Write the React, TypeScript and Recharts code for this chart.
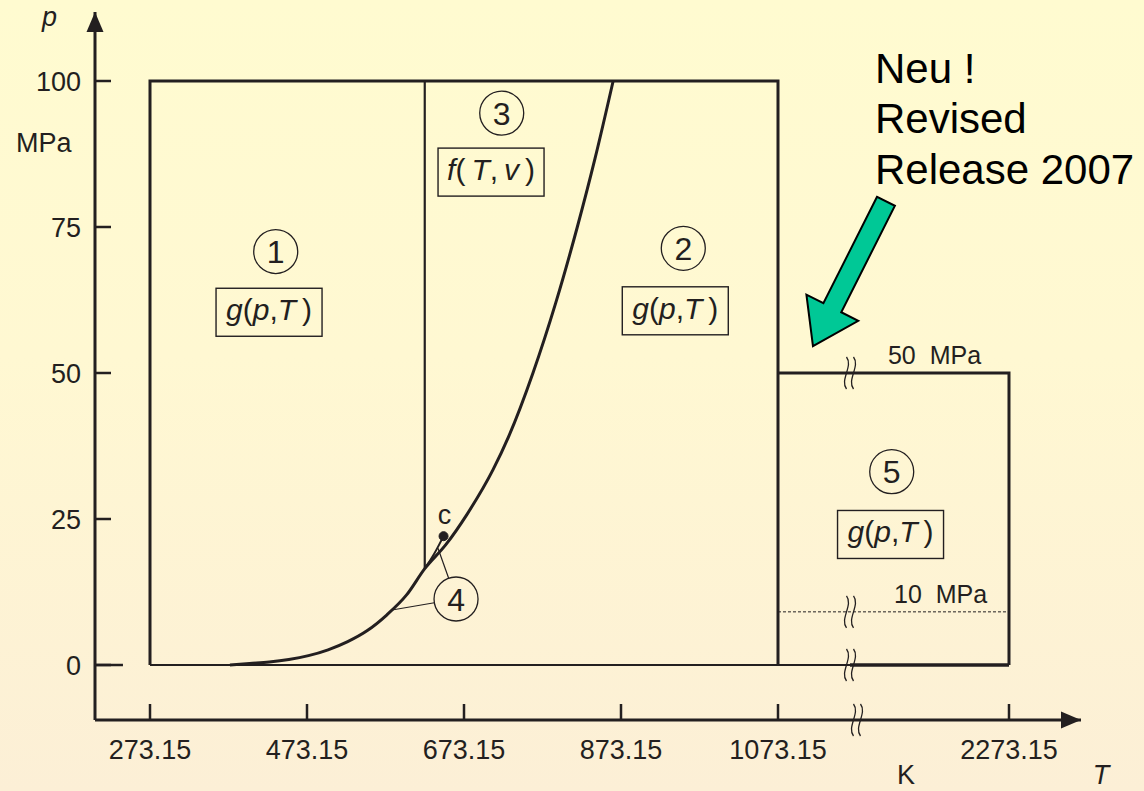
import React from 'react';
import { ComposedChart, Line, XAxis, YAxis, ReferenceDot, ReferenceLine } from 'recharts';

const INK = '#231F20';
const FONT = '"Liberation Sans", Arial, Helvetica, sans-serif';

// ---- axes ----
const X_TICKS_K = [273.15, 473.15, 673.15, 873.15, 1073.15, 2273.15];
const Y_TICKS_MPA = [0, 25, 50, 75, 100];
const T_MIN = 203.086;
const U_MAX = 1459.14;
const P_MIN = -9.418;
const P_MAX = 111.815;
const T_SPLIT = 1073.15; // scale changes after this temperature (axis break)
const HIGH_SCALE = 0.24522;
const BREAK_T = 1447.2;
const BREAK_AXIS_T = 1483.5;

// ---- region boundaries (T in K, p in MPa) ----
const REGION12_T = [273.15, 273.15, 1073.15, 1073.15];
const REGION12_P = [0, 100, 100, 0];
const BOTTOM_LEFT_T = [273.15, BREAK_T];
const BOTTOM_LEFT_P = [0, 0];
const BOTTOM_RIGHT_T = [BREAK_T, 2273.15];
const BOTTOM_RIGHT_P = [0, 0];
const REGION5_T = [1073.15, 2273.15, 2273.15];
const REGION5_P = [50, 50, 0];
const ZERO_TICK_T = [T_MIN, 238.7];
const ZERO_TICK_P = [0, 0];
const B13_T = [623.15, 623.15];
const B13_P = [16.5, 100];
const LINE10_T = [1073.15, 2273.15];
const LINE10_P = [9.1, 9.1];

// saturation curve (thick part) followed by the 2-3 boundary
const SAT_T = [375, 400, 425, 450, 475, 500, 525, 550, 575, 600, 623.15];
const SAT_P = [0.0, 0.25, 0.5, 0.93, 1.6, 2.6, 4.0, 5.9, 8.6, 12.0, 16.5];
const B23_T = [650, 677, 710, 730, 761, 790, 817.5, 840, 863.15];
const B23_P = [20.6, 25.8, 33.4, 39.1, 50, 62, 75, 86.7, 100];
// saturation curve up to the critical point (thin part)
const CRIT_T = [623.15, 635, 647.1];
const CRIT_P = [16.5, 19.0, 22.06];

// ---- labels ----
const CIRCLE_LABELS = ['1', '2', '3', '4', '5'];
const CIRCLE_T = [433.3, 952.5, 721.2, 663.0, 1663.9];
const CIRCLE_P = [70.8, 71.35, 94.5, 11.3, 33.1];
const BOX_KIND = ['g', 'g', 'f', 'g'];
const BOX_T = [424.8, 942.3, 707.6, 1657.8];
const BOX_P = [60.4, 60.65, 84.4, 22.35];
const LEADER_TARGET_T = [581.4, 640.0];
const LEADER_TARGET_P = [9.42, 20.0];
const NOTE_LINES = ['Neu !', 'Revised', 'Release 2007'];
const NOTE_T = 1577;
const NOTE_P = 99.66;
const ARROW_TAIL = { T: 1634.1, p: 79.4 };
const ARROW_TIP = { T: 1254.8, p: 54.6 };
const PRESSURE_LABELS = ['50 MPa', '10 MPa'];
const PRESSURE_LABEL_T = [1644.5, 1675.7];
const PRESSURE_LABEL_P = [50, 9.1];
const BREAK_P = [50, 9.1, 0];
const K_LABEL_T = 1738.1;

const toU = (T: number) => (T <= T_SPLIT ? T : T_SPLIT + (T - T_SPLIT) * HIGH_SCALE);
const pts = (ts: number[], ps: number[]) => ts.map((t, i) => ({ u: toU(t), p: ps[i] }));

const X_TICKS_U = X_TICKS_K.map(toU);
const fmtX = (u: number) => {
  const i = X_TICKS_U.findIndex((v) => Math.abs(v - u) < 0.01);
  return i >= 0 ? X_TICKS_K[i].toFixed(2) : '';
};

const seg = (key: string, data: any[], width: number, extra: any = {}) => (
  <Line
    key={key}
    data={data}
    dataKey="p"
    type="linear"
    stroke={INK}
    strokeWidth={width}
    dot={false}
    activeDot={false}
    isAnimationActive={false}
    legendType="none"
    {...extra}
  />
);

const textStyle = { fontFamily: FONT, fill: INK };

const circleShape = (label: string) => (props: any) => (
  <g>
    <circle cx={props.cx} cy={props.cy} r={22} fill="none" stroke={INK} strokeWidth={1.3} />
    <text x={props.cx} y={props.cy + 11.5} textAnchor="middle" fontSize={32} style={textStyle}>
      {label}
    </text>
  </g>
);

const boxShape = (kind: string) => (props: any) => {
  const { cx, cy } = props;
  const it = { fontStyle: 'italic' as const };
  return (
    <g>
      <rect x={cx - 53} y={cy - 24} width={106} height={48} fill="none" stroke={INK} strokeWidth={1.4} />
      <text x={cx} y={cy + 8} textAnchor="middle" fontSize={30} style={textStyle}>
        {kind === 'g' ? (
          <>
            <tspan {...it}>g</tspan>
            <tspan>(</tspan>
            <tspan {...it}>p</tspan>
            <tspan>,</tspan>
            <tspan {...it}>T</tspan>
            <tspan>{'\u2009)'}</tspan>
          </>
        ) : (
          <>
            <tspan {...it}>f</tspan>
            <tspan>{'(\u2009'}</tspan>
            <tspan {...it}>T</tspan>
            <tspan>{',\u2009'}</tspan>
            <tspan {...it}>v</tspan>
            <tspan>{'\u2009)'}</tspan>
          </>
        )}
      </text>
    </g>
  );
};

const breakShape = (props: any) => {
  const { cx, cy } = props;
  const s = (x: number) => `M ${x} ${cy - 16} C ${x + 7} ${cy - 7}, ${x - 7} ${cy + 7}, ${x} ${cy + 16}`;
  return (
    <g>
      <path d={s(cx - 3.5)} fill="none" stroke={INK} strokeWidth={1.3} />
      <path d={s(cx + 3.5)} fill="none" stroke={INK} strokeWidth={1.3} />
    </g>
  );
};

const leaderShape = (props: any) => {
  const { x1, y1, x2, y2 } = props;
  const dx = x2 - x1;
  const dy = y2 - y1;
  const len = Math.sqrt(dx * dx + dy * dy) || 1;
  return (
    <line x1={x1 + (dx / len) * 22} y1={y1 + (dy / len) * 22} x2={x2} y2={y2} stroke={INK} strokeWidth={1.2} />
  );
};

const arrowShape = (props: any) => {
  const { x1, y1, x2, y2 } = props;
  const dx = x2 - x1;
  const dy = y2 - y1;
  const len = Math.sqrt(dx * dx + dy * dy) || 1;
  const ux = dx / len;
  const uy = dy / len;
  const nx = -uy;
  const ny = ux;
  const sw = 10;
  const hw = 29;
  const hl = 43;
  const bx = x2 - ux * hl;
  const by = y2 - uy * hl;
  const P = [
    [x1 + nx * sw, y1 + ny * sw],
    [bx + nx * sw, by + ny * sw],
    [bx + nx * hw, by + ny * hw],
    [x2, y2],
    [bx - nx * hw, by - ny * hw],
    [bx - nx * sw, by - ny * sw],
    [x1 - nx * sw, y1 - ny * sw],
  ];
  return (
    <polygon
      points={P.map((q) => q.join(',')).join(' ')}
      fill="#00C896"
      stroke="#000"
      strokeWidth={2}
      strokeLinejoin="miter"
    />
  );
};

const textAt = (content: any, dx: number, dy: number, opts: any = {}) => (props: any) => (
  <text
    x={props.cx + dx}
    y={props.cy + dy}
    fontSize={opts.size || 27}
    textAnchor={opts.anchor || 'start'}
    fontStyle={opts.italic ? 'italic' : 'normal'}
    style={{ fontFamily: FONT, fill: opts.color || INK, wordSpacing: opts.ws || 0 }}
  >
    {content}
  </text>
);

export default function App() {
  const satThick = pts([...SAT_T, ...B23_T], [...SAT_P, ...B23_P]);
  const tipU = toU(ARROW_TIP.T);
  const tailU = toU(ARROW_TAIL.T);
  return (
    <div
      style={{
        position: 'absolute',
        left: 0,
        top: 0,
        width: 1144,
        height: 791,
        overflow: 'hidden',
        background: 'linear-gradient(to bottom, #FFFBD0 0%, #FFF8D2 45%, #FCEFD6 100%)',
      }}
    >
      <ComposedChart width={1144} height={791} margin={{ top: 12, right: 63, bottom: 11, left: 0 }}>
        <XAxis
          type="number"
          dataKey="u"
          domain={[T_MIN, U_MAX]}
          allowDataOverflow
          ticks={X_TICKS_U}
          interval={0}
          tickFormatter={fmtX}
          height={60}
          tickSize={-16}
          tickMargin={36}
          axisLine={{ stroke: INK, strokeWidth: 3 }}
          tickLine={{ stroke: INK, strokeWidth: 2.5 }}
          tick={{ fill: INK, fontSize: 27, fontFamily: FONT }}
        />
        <YAxis
          type="number"
          dataKey="p"
          domain={[P_MIN, P_MAX]}
          allowDataOverflow
          ticks={Y_TICKS_MPA}
          interval={0}
          width={95}
          tickSize={-16}
          tickMargin={30}
          axisLine={{ stroke: INK, strokeWidth: 3 }}
          tickLine={{ stroke: INK, strokeWidth: 2.5 }}
          tick={{ fill: INK, fontSize: 27, fontFamily: FONT }}
        />

        {seg('r12', pts(REGION12_T, REGION12_P), 3)}
        {seg('botL', pts(BOTTOM_LEFT_T, BOTTOM_LEFT_P), 2.2)}
        {seg('botR', pts(BOTTOM_RIGHT_T, BOTTOM_RIGHT_P), 3.5)}
        {seg('r5', pts(REGION5_T, REGION5_P), 3)}
        {seg('zt', pts(ZERO_TICK_T, ZERO_TICK_P), 2.5)}
        {seg('b13', pts(B13_T, B13_P), 2.2)}
        {seg('l10', pts(LINE10_T, LINE10_P), 1, { strokeDasharray: '3 2' })}
        {seg('sat', satThick, 3, { type: 'monotone' })}
        {seg('crit', pts(CRIT_T, CRIT_P), 2, { type: 'monotone' })}

        {BREAK_P.map((p, i) => (
          <ReferenceDot key={'br' + i} x={toU(BREAK_T)} y={p} ifOverflow="visible" shape={breakShape} />
        ))}
        <ReferenceDot x={toU(BREAK_AXIS_T)} y={P_MIN} ifOverflow="visible" shape={breakShape} />

        {LEADER_TARGET_T.map((t, i) => (
          <ReferenceLine
            key={'ld' + i}
            segment={[
              { x: toU(CIRCLE_T[3]), y: CIRCLE_P[3] },
              { x: toU(t), y: LEADER_TARGET_P[i] },
            ]}
            ifOverflow="visible"
            shape={leaderShape}
          />
        ))}

        {CIRCLE_LABELS.map((l, i) => (
          <ReferenceDot key={'c' + l} x={toU(CIRCLE_T[i])} y={CIRCLE_P[i]} ifOverflow="visible" shape={circleShape(l)} />
        ))}
        {BOX_KIND.map((k, i) => (
          <ReferenceDot key={'b' + i} x={toU(BOX_T[i])} y={BOX_P[i]} ifOverflow="visible" shape={boxShape(k)} />
        ))}

        <ReferenceDot
          x={toU(CRIT_T[CRIT_T.length - 1])}
          y={CRIT_P[CRIT_P.length - 1]}
          r={4.5}
          fill={INK}
          stroke={INK}
          ifOverflow="visible"
        />
        <ReferenceDot
          x={toU(CRIT_T[CRIT_T.length - 1])}
          y={CRIT_P[CRIT_P.length - 1]}
          ifOverflow="visible"
          shape={textAt('c', 1, -12, { anchor: 'middle' })}
        />

        {PRESSURE_LABELS.map((l, i) => (
          <ReferenceDot
            key={'pl' + i}
            x={toU(PRESSURE_LABEL_T[i])}
            y={PRESSURE_LABEL_P[i]}
            ifOverflow="visible"
            shape={textAt(l, 0, i === 0 ? -9 : -8.6, { size: 25, ws: 7 })}
          />
        ))}

        <ReferenceLine
          segment={[
            { x: tailU, y: ARROW_TAIL.p },
            { x: tipU, y: ARROW_TIP.p },
          ]}
          ifOverflow="visible"
          shape={arrowShape}
        />

        <ReferenceDot
          x={toU(NOTE_T)}
          y={NOTE_P}
          ifOverflow="visible"
          shape={(props: any) => (
            <text x={props.cx} y={props.cy} fontSize={42} style={{ fontFamily: FONT, fill: '#000' }}>
              {NOTE_LINES.map((l, i) => (
                <tspan key={l} x={props.cx} dy={i === 0 ? 0 : 50.5}>
                  {l}
                </tspan>
              ))}
            </text>
          )}
        />

        {/* axis arrowheads and axis titles */}
        <ReferenceDot
          x={T_MIN}
          y={P_MAX}
          ifOverflow="visible"
          shape={(props: any) => (
            <polygon
              points={`${props.cx},${props.cy} ${props.cx - 8.5},${props.cy + 20} ${props.cx + 8.5},${props.cy + 20}`}
              fill={INK}
            />
          )}
        />
        <ReferenceDot
          x={U_MAX}
          y={P_MIN}
          ifOverflow="visible"
          shape={(props: any) => (
            <polygon
              points={`${props.cx},${props.cy} ${props.cx - 20},${props.cy - 8.5} ${props.cx - 20},${props.cy + 8.5}`}
              fill={INK}
            />
          )}
        />
        <ReferenceDot x={T_MIN} y={P_MAX} ifOverflow="visible" shape={textAt('p', -53, 13.5, { italic: true })} />
        <ReferenceDot x={T_MIN} y={100} ifOverflow="visible" shape={textAt('MPa', -79, 70.7)} />
        <ReferenceDot x={toU(K_LABEL_T)} y={P_MIN} ifOverflow="visible" shape={textAt('K', 0, 64, { anchor: 'middle' })} />
        <ReferenceDot x={U_MAX} y={P_MIN} ifOverflow="visible" shape={textAt('T', 20, 64, { anchor: 'middle', italic: true })} />
      </ComposedChart>
    </div>
  );
}
